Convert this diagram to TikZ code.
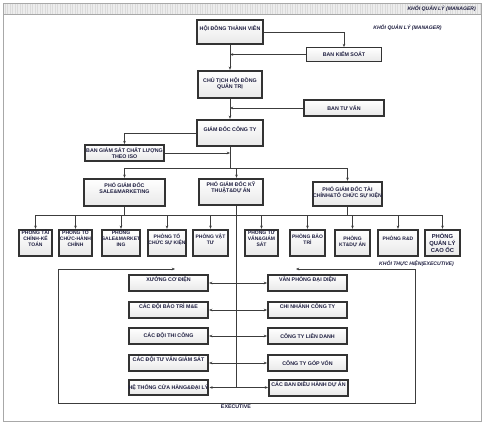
\documentclass[tikz,border=0pt]{standalone}
\usepackage{fontspec}
\setmainfont{Liberation Sans}
\usetikzlibrary{arrows.meta}
\definecolor{txt}{HTML}{1E1E40}
\definecolor{bord}{HTML}{333333}
\definecolor{lnc}{HTML}{3C3C3C}
\definecolor{frm}{HTML}{A8A8A8}
\begin{document}
\begin{tikzpicture}[x=1pt,y=-1pt,
  font=\fontsize{5.3}{6}\selectfont\bfseries, text=txt,
  box/.style={draw=bord, line width=2.4pt, top color=white, bottom color=gray!18,
    align=center, inner sep=0pt},
  dept/.style={box, font=\fontsize{5}{5.8}\selectfont\bfseries},
  thinbox/.style={box, line width=0.9pt},
  midbox/.style={box, line width=2pt},
  ln/.style={draw=lnc, line width=0.9pt},
  arr/.style={ln, -{Stealth[length=3.2pt,width=2.6pt]}},
  lbl/.style={font=\fontsize{5.1}{6}\selectfont\bfseries\itshape, inner sep=0pt}]
\useasboundingbox (0,0) rectangle (484,424);
% outer frame and header band
\fill[white] (0,0) rectangle (484,424);
\fill[gray!14] (3,3) rectangle (481,14.5);
\begin{scope}
\clip (3,3) rectangle (481,14.5);
\draw[gray!28, line width=0.3pt, step=2.5] (3,3) grid (481,15);
\end{scope}
\draw[frm, line width=0.8pt] (3,14.5) -- (481,14.5);
\draw[frm, line width=1pt] (3,3) rectangle (481,421);
\node[lbl, anchor=east] (hdr) at (476,9) {KHỐI QUẢN LÝ (MANAGER)};
\node[lbl] (mgr) at (407.5,28) {KHỐI QUẢN LÝ (MANAGER)};
\node[lbl] (exe) at (416.5,263.5) {KHỐI THỰC HIỆN(EXECUTIVE)};
\node[inner sep=0pt] (ex2) at (236,406.5) {EXECUTIVE};
% management
\node[box, minimum width=66, minimum height=24, text depth=7pt] (hdtv) at (230,32) {HỘI ĐỒNG THÀNH VIÊN};
\node[thinbox, minimum width=75, minimum height=14] (bks) at (344,54.5) {BAN KIỂM SOÁT};
\node[box, minimum width=64, minimum height=27, text depth=3pt] (ct) at (230,84.5) {CHỦ TỊCH HỘI ĐỒNG\\QUẢN TRỊ};
\node[box, minimum width=80, minimum height=16] (btv) at (344,108) {BAN TƯ VẤN};
\node[box, minimum width=66, minimum height=26, text depth=7pt] (gd) at (230,133) {GIÁM ĐỐC CÔNG TY};
\node[midbox, minimum width=79, minimum height=16] (bgs) at (124.5,153) {BAN GIÁM SÁT CHẤT LƯỢNG\\THEO ISO};
\node[box, minimum width=81, minimum height=27, text depth=8pt] (pgd1) at (124.5,192.5) {PHÓ GIÁM ĐỐC\\SALE\&MARKETING};
\node[box, minimum width=64, minimum height=26, text depth=9pt] (pgd2) at (231,192) {PHÓ GIÁM ĐỐC KỸ\\THUẬT\&DỰ ÁN};
\node[box, minimum width=69, minimum height=24, text depth=3pt] (pgd3) at (347.5,194) {PHÓ GIÁM ĐỐC TÀI\\CHÍNH\&TỔ CHỨC SỰ KIỆN};
% departments
\node[dept, minimum width=33, minimum height=26, text depth=9pt] (d1) at (35.5,243) {PHÒNG TÀI\\CHÍNH-KẾ\\TOÁN};
\node[dept, minimum width=33, minimum height=26, text depth=9pt] (d2) at (75.5,243) {PHÒNG TỔ\\CHỨC-HÀNH\\CHÍNH};
\node[dept, minimum width=36, minimum height=26, text depth=9pt] (d3) at (121,243) {PHÒNG\\SALE\&MARKET\\ING};
\node[dept, minimum width=38, minimum height=26, text depth=8pt] (d4) at (167,243) {PHÒNG TỔ\\CHỨC SỰ KIỆN};
\node[dept, minimum width=35, minimum height=26, text depth=8pt] (d5) at (210.5,243) {PHÒNG VẬT\\TƯ};
\node[dept, minimum width=33, minimum height=26, text depth=9pt] (d6) at (261.5,243) {PHÒNG TƯ\\VẤN\&GIÁM\\SÁT};
\node[dept, minimum width=35, minimum height=26, text depth=8pt] (d7) at (307.5,243) {PHÒNG BẢO\\TRÌ};
\node[dept, minimum width=35, minimum height=26, text depth=4pt] (d8) at (352.5,243) {PHÒNG\\KT\&DỰ ÁN};
\node[dept, minimum width=40, minimum height=26, text depth=9pt] (d9) at (398,243) {PHÒNG R\&D};
\node[box, minimum width=35, minimum height=26, font=\fontsize{5.8}{7}\selectfont\bfseries] (d10) at (442.5,243) {PHÒNG\\QUẢN LÝ\\CAO ỐC};
% executive columns
\node[box, line width=2.2pt, minimum width=79, minimum height=16, text depth=7pt] (l1) at (168.5,283) {XƯỞNG CƠ ĐIỆN};
\node[box, line width=2.2pt, minimum width=79, minimum height=16, text depth=7pt] (l2) at (168.5,310) {CÁC ĐỘI BẢO TRÌ M\&E};
\node[box, line width=2.2pt, minimum width=79, minimum height=16] (l3) at (168.5,336) {CÁC ĐỘI THI CÔNG};
\node[box, line width=2.2pt, minimum width=79, minimum height=16, text depth=7pt] (l4) at (168.5,363) {CÁC ĐỘI TƯ VẤN GIÁM SÁT};
\node[box, line width=2.2pt, minimum width=79, minimum height=15] (l5) at (168.5,387.5) {HỆ THỐNG CỬA HÀNG\&ĐẠI LÝ};
\node[midbox, minimum width=79, minimum height=16, text depth=8pt] (r1) at (307.5,283) {VĂN PHÒNG ĐẠI DIỆN};
\node[midbox, minimum width=79, minimum height=16, text depth=7pt] (r2) at (307.5,310) {CHI NHÁNH CÔNG TY};
\node[midbox, minimum width=79, minimum height=16] (r3) at (307.5,336) {CÔNG TY LIÊN DANH};
\node[midbox, minimum width=79, minimum height=16] (r4) at (307.5,363) {CÔNG TY GÓP VỐN};
\node[midbox, minimum width=79, minimum height=16, text depth=7pt] (r5) at (308.5,388) {CÁC BAN ĐIỀU HÀNH DỰ ÁN};
% management connectors
\draw[arr] (hdtv.east) -| (bks.north);
\draw[arr] (bks.west) -- (bks.west -| hdtv.south);
\draw[arr] (hdtv.south) -- (ct.north);
\draw[arr] (btv.west) -- (btv.west -| ct.south);
\draw[arr] (ct.south) -- (gd.north);
\draw[arr] (gd.west) -| (bgs.north);
\draw[arr] (bgs.east) -- (bgs.east -| gd.south);
\coordinate (b1) at (230,168);
\draw[ln] (gd.south) -- (b1);
\draw[arr] (b1) -| (pgd1.north);
\draw[arr] (b1) -| ([xshift=5.5pt]pgd2.north);
\draw[arr] (b1) -| (pgd3.north);
% department bus
\coordinate (bus2) at (35.5,215);
\coordinate (bus2r) at (442.5,215);
\draw[ln] (bus2) -- (bus2r);
\draw[ln] (pgd1.south) -- (pgd1.south |- bus2);
\draw[ln] (pgd3.south) -- (pgd3.south |- bus2);
\foreach \d in {d1,d2,d3,d4,d5,d6,d7,d8,d9,d10}
  \draw[arr] (\d.north |- bus2) -- (\d.north);
% spine to executive units
\coordinate (sp0) at ([xshift=5.5pt]pgd2.south);
\coordinate (spB) at (sp0 |- l5.east);
\draw[ln] (sp0) -- (spB);
\foreach \n in {l1,l2,l3,l4,l5}
  \draw[arr] (sp0 |- \n.east) -- (\n.east);
\foreach \n in {r1,r2,r3,r4}
  \draw[arr] (sp0 |- \n.west) -- (\n.west);
\draw[arr] (spB) -- (spB -| r5.west);
% executive frame
\coordinate (ea) at (175,269);
\coordinate (eb) at (58,269);
\coordinate (ec) at (58,403);
\coordinate (ed) at (415,403);
\coordinate (ee) at (415,269);
\coordinate (ef) at (296,269);
\draw[ln, {Stealth[length=3.2pt,width=2.6pt]}-{Stealth[length=3.2pt,width=2.6pt]}] (ea) -- (eb) -- (ec) -- (ed) -- (ee) -- (ef);
\end{tikzpicture}
\end{document}
